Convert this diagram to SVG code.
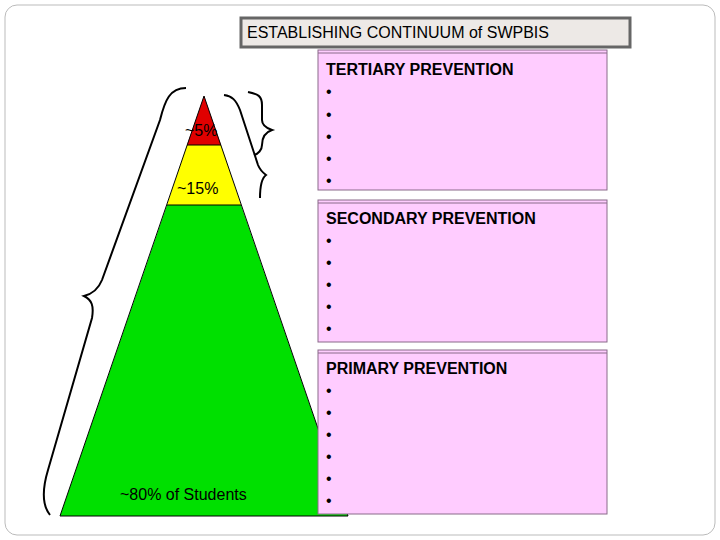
<svg xmlns="http://www.w3.org/2000/svg" width="720" height="540" viewBox="0 0 720 540">
<style>
.t{font-family:"Liberation Sans",Arial,sans-serif;font-size:16px;fill:#000}
.h{font-family:"Liberation Sans",Arial,sans-serif;font-size:16px;font-weight:bold;fill:#000}
.box{fill:#ffccff;stroke:#8a6a8a;stroke-width:1}
.br{fill:none;stroke:#000;stroke-width:2}
</style>
<rect x="0" y="0" width="720" height="540" fill="#fff"/>
<rect x="5" y="5" width="710" height="530" rx="12" fill="none" stroke="#bbb" stroke-width="1"/>
<g id="title"><rect x="241" y="18" width="389" height="29" fill="#ede9e6" stroke="#666" stroke-width="3"/><text class="t" x="247" y="38">ESTABLISHING CONTINUUM of SWPBIS</text></g>
<g id="pyramid">
<polygon points="204,96 221,145 187,145" fill="#e00000"/>
<polygon points="187,145 221,145 241,205 167,205" fill="#ffff00"/>
<polygon points="167,205 241,205 348,516 60,516" fill="#00e000"/>
<polygon points="204,96 348,516 60,516" fill="none" stroke="#000" stroke-width="1"/>
<line x1="187" y1="145" x2="221" y2="145" stroke="#000"/><line x1="167" y1="205" x2="241" y2="205" stroke="#000"/>
<text class="t" x="185" y="136">~5%</text>
<text class="t" x="177" y="194">~15%</text>
<text class="t" x="120" y="500">~80% of Students</text>
</g>
<g id="braces">
<path class="br" d="M186,88 C170,88 165,100 160,120 L102,280 C98,290 92,294 84,296 C92,300 94,306 92,318 L48,470 C42,490 42,505 50,515"/>
<path class="br" d="M224,95 C232,96 236,100 240,110 L258,165 C260,170 262,172 266,175 C262,178 260,184 260,198"/>
<path class="br" d="M248,92 C258,94 262,96 262,105 L262,120 C262,125 266,128 272,130 C266,132 262,136 262,145 C262,150 258,154 254,155"/>
</g>
<g id="tertiary"><rect class="box" x="318" y="50" width="289" height="140"/><line x1="318" y1="53" x2="607" y2="53" stroke="#8a6a8a"/><text class="h" x="326" y="75">TERTIARY PREVENTION</text>
<g class="t"><text class="t" x="326" y="97">•</text><text class="t" x="326" y="120">•</text><text class="t" x="326" y="142">•</text><text class="t" x="326" y="164">•</text><text class="t" x="326" y="186">•</text></g></g>
<g id="secondary"><rect class="box" x="318" y="200" width="289" height="142"/><line x1="318" y1="203" x2="607" y2="203" stroke="#8a6a8a"/><text class="h" x="326" y="224">SECONDARY PREVENTION</text>
<text class="t" x="326" y="246">•</text><text class="t" x="326" y="268">•</text><text class="t" x="326" y="290">•</text><text class="t" x="326" y="312">•</text><text class="t" x="326" y="334">•</text></g>
<g id="primary"><rect class="box" x="318" y="350" width="289" height="164"/><line x1="318" y1="353" x2="607" y2="353" stroke="#8a6a8a"/><text class="h" x="326" y="374">PRIMARY PREVENTION</text>
<text class="t" x="326" y="396">•</text><text class="t" x="326" y="418">•</text><text class="t" x="326" y="440">•</text><text class="t" x="326" y="462">•</text><text class="t" x="326" y="484">•</text><text class="t" x="326" y="506">•</text></g>
</svg>
